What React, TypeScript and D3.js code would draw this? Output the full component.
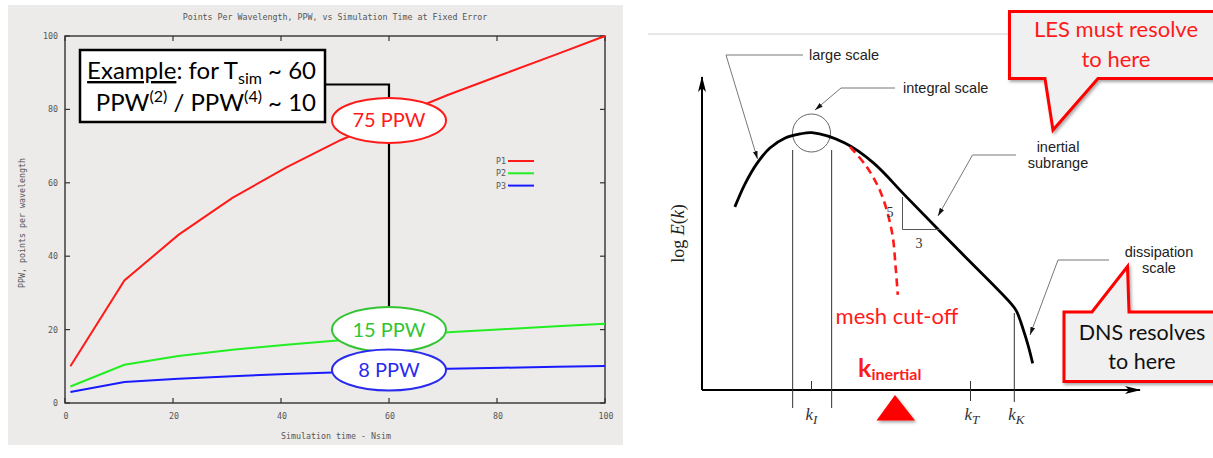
import React from 'react';
import * as d3 from 'd3';

// left panel: PPW vs simulation time (gnuplot style)
const simTime = [1, 11, 21, 31, 41, 51, 61, 71, 81, 91, 100];
const ppwP1 = [10, 33.4, 45.8, 55.9, 64.2, 71.6, 78, 84, 89.5, 95, 100];
const ppwP2 = [4.5, 10.4, 12.8, 14.5, 15.9, 17.1, 18.2, 19.3, 20.1, 20.9, 21.6];
const ppwP3 = [3.0, 5.7, 6.6, 7.3, 7.9, 8.4, 8.9, 9.3, 9.6, 9.9, 10.1];
const seriesNames = ['P1', 'P2', 'P3'];
const seriesColors = ['#ff1a1a', '#22ee22', '#1a1aff'];
const axisTicks = [0, 20, 40, 60, 80, 100];
const bubbleLabels = ['75 PPW', '15 PPW', '8 PPW'];
const bubbleValues = [77, 20, 9];
const bubbleColors = ['#ff1a1a', '#33c433', '#2a2aee'];
const bubbleTime = 60;

// right panel: energy spectrum sketch (log k vs log E, arbitrary units)
const specK = [7.5, 9.8, 12.6, 15.5, 19.0, 22.4, 25.1, 32.6, 39.2, 46.4, 58, 70.5, 71.8, 73.3, 74.5, 75.5];
const specE = [58.5, 65.8, 72.5, 77.3, 80.5, 81.8, 82.2, 78.9, 72.5, 62.1, 45.5, 27.7, 25.2, 19.5, 14.0, 8.5];
const cutK = [33.8, 37.6, 40.9, 43.4, 44.2, 44.7];
const cutE = [77.7, 71.3, 62.8, 50.2, 39.4, 30.4];
const kTickNames = ['I', 'T', 'K'];
const kTickPos = [25.0, 61.3, 71.3];

const MONO = '"DejaVu Sans Mono", monospace';
const SANS = 'Lato, "Open Sans", sans-serif';
const ARIAL = '"Liberation Sans", Arial, sans-serif';
const SERIF = '"Liberation Serif", "DejaVu Serif", serif';

export default function App() {
  const xL = d3.scaleLinear().domain([0, 100]).range([65, 605]);
  const yL = d3.scaleLinear().domain([0, 100]).range([403, 36]);
  const lineL = d3
    .line<[number, number]>()
    .x((d) => xL(d[0]))
    .y((d) => yL(d[1]));
  const series = [ppwP1, ppwP2, ppwP3].map((vals) => simTime.map((t, i) => [t, vals[i]] as [number, number]));

  const xR = d3.scaleLinear().domain([0, 100]).range([702, 1140]);
  const yR = d3.scaleLinear().domain([0, 100]).range([390, 77]);
  const lineR = d3
    .line<[number, number]>()
    .x((d) => xR(d[0]))
    .y((d) => yR(d[1]))
    .curve(d3.curveCatmullRom.alpha(0.5));
  const spec = specK.map((k, i) => [k, specE[i]] as [number, number]);
  const cut = cutK.map((k, i) => [k, cutE[i]] as [number, number]);

  const bx = xL(bubbleTime);

  return (
    <svg
      width={1213}
      height={458}
      style={{ position: 'absolute', left: 0, top: 0, background: '#fff' }}
    >
      <defs>
        <filter id="sh" x="-20%" y="-20%" width="140%" height="150%">
          <feDropShadow dx="1.5" dy="2" stdDeviation="1.5" floodColor="#000" floodOpacity="0.35" />
        </filter>
        <marker id="lead" viewBox="0 0 10 10" refX="10" refY="5" markerWidth="8" markerHeight="8" orient="auto">
          <path d="M0,2 L10,5 L0,8 Z" fill="#111" />
        </marker>
        <marker id="ax" viewBox="0 0 16 10" refX="15" refY="5" markerWidth="16" markerHeight="10" markerUnits="userSpaceOnUse" orient="auto">
          <path d="M0,1 L16,5 L0,9 L4,5 Z" fill="#000" />
        </marker>
      </defs>

      {/* ---------- left panel ---------- */}
      <rect x={8} y={5} width={615} height={440} fill="#ecebe9" />
      <text x={335} y={20} textAnchor="middle" fontFamily={MONO} fontSize={8.3} fill="#555">
        Points Per Wavelength, PPW, vs Simulation Time at Fixed Error
      </text>
      <rect x={65} y={36} width={540} height={367} fill="none" stroke="#333" strokeWidth={1.4} />
      {axisTicks.map((t) => (
        <g key={'t' + t}>
          <line x1={65} x2={70} y1={yL(t)} y2={yL(t)} stroke="#333" strokeWidth={1.2} />
          <line x1={600} x2={605} y1={yL(t)} y2={yL(t)} stroke="#333" strokeWidth={1.2} />
          <line x1={xL(t)} x2={xL(t)} y1={403} y2={398} stroke="#333" strokeWidth={1.2} />
          <line x1={xL(t)} x2={xL(t)} y1={36} y2={41} stroke="#333" strokeWidth={1.2} />
          <text x={58} y={yL(t) + 3} textAnchor="end" fontFamily={MONO} fontSize={8.3} fill="#555">
            {t}
          </text>
          <text x={xL(t) + 1} y={419} textAnchor="middle" fontFamily={MONO} fontSize={8.3} fill="#555">
            {t}
          </text>
        </g>
      ))}
      <text x={336} y={439} textAnchor="middle" fontFamily={MONO} fontSize={8.3} fill="#555">
        Simulation time - Nsim
      </text>
      <text
        transform="translate(25,223) rotate(-90)"
        textAnchor="middle"
        fontFamily={MONO}
        fontSize={8.3}
        fill="#555"
      >
        PPW, points per wavelength
      </text>

      {series.map((s, i) => (
        <path key={seriesNames[i]} d={lineL(s) || ''} fill="none" stroke={seriesColors[i]} strokeWidth={2} />
      ))}
      {seriesNames.map((n, i) => (
        <g key={'lg' + n}>
          <text x={496} y={164 + i * 12.3} fontFamily={MONO} fontSize={8.3} fill="#555">
            {n}
          </text>
          <line x1={508} x2={534} y1={161 + i * 12.3} y2={161 + i * 12.3} stroke={seriesColors[i]} strokeWidth={2} />
        </g>
      ))}

      {/* example box + connector */}
      <polyline points={`325,84.5 ${bx},84.5 ${bx},307`} fill="none" stroke="#000" strokeWidth={2.2} />
      <rect x={80} y={50} width={245} height={72} fill="#fff" stroke="#000" strokeWidth={2.5} />
      <text x={316} y={79} textAnchor="end" fontFamily={SANS} fontSize={24} fill="#000">
        <tspan textDecoration="underline">Example</tspan>
        <tspan>: for T</tspan>
        <tspan fontSize={16} dy={5}>sim</tspan>
        <tspan dy={-5}> ~ 60</tspan>
      </text>
      <text x={316} y={111} textAnchor="end" fontFamily={SANS} fontSize={24} fill="#000">
        <tspan>PPW</tspan>
        <tspan fontSize={16} dy={-9}>(2)</tspan>
        <tspan dy={9}> / PPW</tspan>
        <tspan fontSize={16} dy={-9}>(4)</tspan>
        <tspan dy={9}> ~ 10</tspan>
      </text>

      {bubbleLabels.map((lab, i) => (
        <g key={lab}>
          <ellipse cx={bx} cy={yL(bubbleValues[i])} rx={57} ry={i === 2 ? 20.5 : 22.5} fill="#fff" stroke={bubbleColors[i]} strokeWidth={2} />
          <text x={bx} y={yL(bubbleValues[i]) + 7} textAnchor="middle" fontFamily={SANS} fontSize={20} fill={bubbleColors[i]}>
            {lab}
          </text>
        </g>
      ))}

      {/* ---------- right panel ---------- */}
      <line x1={648} x2={1213} y1={34} y2={34} stroke="#cfcfcf" strokeWidth={1} />
      <line x1={xR(0)} x2={xR(0)} y1={yR(0)} y2={yR(100)} stroke="#000" strokeWidth={2} markerEnd="url(#ax)" />
      <line x1={xR(0)} x2={xR(100)} y1={yR(0)} y2={yR(0)} stroke="#000" strokeWidth={2} markerEnd="url(#ax)" />
      <text transform={`translate(684,${yR(50)}) rotate(-90)`} textAnchor="middle" fontFamily={SERIF} fontSize={18} fill="#222">
        <tspan>log </tspan>
        <tspan fontStyle="italic">E</tspan>
        <tspan>(</tspan>
        <tspan fontStyle="italic">k</tspan>
        <tspan>)</tspan>
      </text>

      {/* integral range guide lines */}
      {[20.7, 29.6].map((k) => (
        <line key={'v' + k} x1={xR(k)} x2={xR(k)} y1={150} y2={408} stroke="#333" strokeWidth={1} />
      ))}
      <line x1={xR(kTickPos[0])} x2={xR(kTickPos[0])} y1={381} y2={390} stroke="#333" strokeWidth={1} />
      <line x1={xR(kTickPos[1])} x2={xR(kTickPos[1])} y1={381} y2={401} stroke="#333" strokeWidth={1} />
      <line x1={xR(kTickPos[2])} x2={xR(kTickPos[2])} y1={313} y2={402} stroke="#333" strokeWidth={1} />
      {kTickNames.map((n, i) => (
        <text key={'k' + n} x={xR(kTickPos[i]) - 6} y={420} fontFamily={SERIF} fontStyle="italic" fontSize={17} fill="#333">
          k
          <tspan fontSize={13} dy={4}>{n}</tspan>
        </text>
      ))}

      <circle cx={xR(25)} cy={133} r={19} fill="none" stroke="#666" strokeWidth={1} />
      <path d={lineR(spec) || ''} fill="none" stroke="#000" strokeWidth={2.8} />
      <path d={lineR(cut) || ''} fill="none" stroke="#ff1a1a" strokeWidth={2.6} strokeDasharray="8,5" />

      {/* -5/3 slope triangle */}
      <polyline points="902.5,197 902.5,229.5 940,229.5" fill="none" stroke="#555" strokeWidth={1} />
      <text x={890} y={217} textAnchor="middle" fontFamily={SERIF} fontSize={14} fill="#333">5</text>
      <text x={919} y={248} textAnchor="middle" fontFamily={SERIF} fontSize={14} fill="#333">3</text>

      {/* leaders */}
      <polyline points="803,55 726,55 757.5,159" fill="none" stroke="#777" strokeWidth={1} markerEnd="url(#lead)" />
      <text x={809} y={60} fontFamily={ARIAL} fontSize={14.5} fill="#222">large scale</text>
      <polyline points="895,88 841,88 815,110" fill="none" stroke="#777" strokeWidth={1} markerEnd="url(#lead)" />
      <text x={903} y={93} fontFamily={ARIAL} fontSize={14.5} fill="#222">integral scale</text>
      <polyline points="1016,155 972.5,155 938,216" fill="none" stroke="#777" strokeWidth={1} markerEnd="url(#lead)" />
      <text x={1058} y={152} textAnchor="middle" fontFamily={ARIAL} fontSize={14.5} fill="#222">inertial</text>
      <text x={1058} y={168} textAnchor="middle" fontFamily={ARIAL} fontSize={14.5} fill="#222">subrange</text>
      <polyline points="1109,260 1058,260 1030,335" fill="none" stroke="#777" strokeWidth={1} markerEnd="url(#lead)" />
      <text x={1159} y={257} textAnchor="middle" fontFamily={ARIAL} fontSize={14.5} fill="#222">dissipation</text>
      <text x={1159} y={273} textAnchor="middle" fontFamily={ARIAL} fontSize={14.5} fill="#222">scale</text>

      {/* cut-off annotations */}
      <text x={897} y={324} textAnchor="middle" fontFamily={SANS} fontSize={22} fill="#ff1a1a">mesh cut-off</text>
      <text x={858} y={377} fontFamily={SANS} fontWeight="bold" fontSize={25} fill="#ff1a1a">
        k
        <tspan fontSize={16} dy={3}>inertial</tspan>
      </text>
      <path d="M895,395 L915,420.5 L876.5,420.5 Z" fill="#ff0000" filter="url(#sh)" />

      {/* callouts */}
      <path
        d="M1009.5,11.5 H1218 V78.5 H1098 L1053,130 L1045,78.5 H1009.5 Z"
        fill="#f0f0f0"
        stroke="#ff0000"
        strokeWidth={3}
        strokeLinejoin="miter"
        filter="url(#sh)"
      />
      <text x={1116} y={37} textAnchor="middle" fontFamily={SANS} fontSize={22} fill="#ff1a1a">LES must resolve</text>
      <text x={1116} y={67} textAnchor="middle" fontFamily={SANS} fontSize={22} fill="#ff1a1a">to here</text>
      <path
        d="M1064,312 H1092 L1127.5,266.5 L1129,312 H1218 V381.5 H1064 Z"
        fill="#f0f0f0"
        stroke="#ff0000"
        strokeWidth={3}
        filter="url(#sh)"
      />
      <text x={1142} y={340} textAnchor="middle" fontFamily={SANS} fontSize={21.5} fill="#111">DNS resolves</text>
      <text x={1142} y={369} textAnchor="middle" fontFamily={SANS} fontSize={21.5} fill="#111">to here</text>
    </svg>
  );
}
